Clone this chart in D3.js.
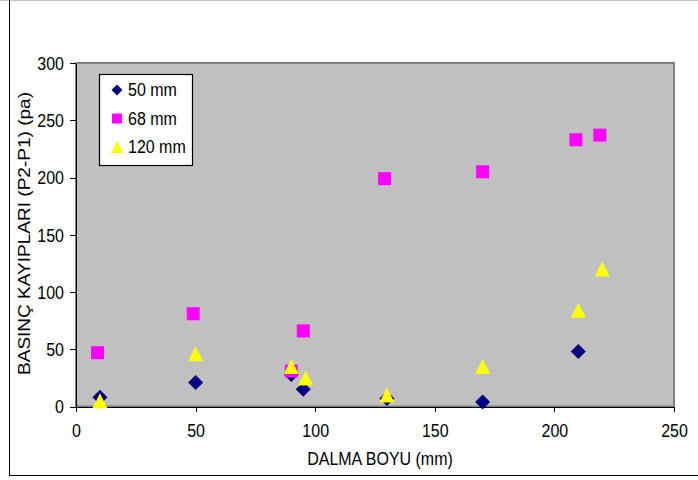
<!DOCTYPE html>
<html lang="tr">
<head>
  <meta charset="UTF-8" />
  <title>Basinç kayiplari</title>
  <style>
    body {
      margin: 0;
      background: #fff;
    }
    svg {
      display: block;
      font-family: "Liberation Sans", Arial, sans-serif;
    }
    .axis path, .axis line {
      stroke: #000;
      stroke-width: 1px;
      shape-rendering: crispEdges;
    }
    .axis text {
      font-size: 16px;
      fill: #000;
    }
  </style>
</head>
<body>
  <svg width="698" height="480"></svg>

  <script src="https://d3js.org/d3.v7.min.js"></script>
  <script>
    // values
    const xTicks = [0, 50, 100, 150, 200, 250];
    const yTicks = [0, 50, 100, 150, 200, 250, 300];

    const seriesNames = ["50 mm", "68 mm", "120 mm"];

    const x50 = [10, 50, 90, 95, 130, 170, 210];
    const y50 = [8, 21, 28, 15, 7, 4, 48];

    const x68 = [9, 49, 90, 95, 129, 170, 209, 219];
    const y68 = [47, 81, 31, 66, 199, 205, 233, 237];

    const x120 = [10, 50, 90, 96, 130, 170, 210, 220];
    const y120 = [5, 46, 35, 25, 10, 35, 84, 120];

    const stretch = 1.12; // text in the original is a bit tall

    const svg = d3.select("svg");

    // outer frame
    svg.append("line").attr("x1", 0).attr("x2", 698).attr("y1", 0.5).attr("y2", 0.5)
      .attr("stroke", "#bdbdbd");
    svg.append("line").attr("x1", 9.5).attr("x2", 9.5).attr("y1", 0).attr("y2", 476)
      .attr("stroke", "#000");
    svg.append("line").attr("x1", 9).attr("x2", 698).attr("y1", 475.5).attr("y2", 475.5)
      .attr("stroke", "#000");

    const x = d3.scaleLinear().domain([0, 250]).range([76, 674]);
    const y = d3.scaleLinear().domain([0, 300]).range([406.5, 63]);

    // plot area
    svg.append("rect")
      .attr("x", x(0)).attr("y", y(300))
      .attr("width", x(250) - x(0)).attr("height", y(0) - y(300))
      .attr("fill", "#c0c0c0")
      .attr("stroke", "#808080")
      .attr("stroke-width", 2);

    // axes
    const gx = svg.append("g")
      .attr("class", "axis")
      .attr("transform", `translate(0,${y(0)})`)
      .call(d3.axisBottom(x).tickValues(xTicks).tickSize(5).tickSizeOuter(0));
    gx.selectAll("text")
      .attr("y", 0).attr("dy", null)
      .attr("transform", `translate(0,30) scale(1,${stretch})`);

    const gy = svg.append("g")
      .attr("class", "axis")
      .attr("transform", `translate(${x(0)},0)`)
      .call(d3.axisLeft(y).tickValues(yTicks).tickSize(6).tickSizeOuter(0));
    gy.selectAll("text")
      .attr("x", -12).attr("dy", null)
      .attr("transform", `translate(0,6.4) scale(1,${stretch})`);

    // axis titles
    svg.append("text")
      .attr("transform", `translate(380,465) scale(1,${stretch})`)
      .attr("text-anchor", "middle")
      .attr("font-size", 16)
      .text("DALMA BOYU (mm)");

    svg.append("text")
      .attr("transform", "translate(30,233.5) rotate(-90)")
      .attr("text-anchor", "middle")
      .attr("font-size", 16.5)
      .attr("textLength", 283)
      .attr("lengthAdjust", "spacingAndGlyphs")
      .text("BASINÇ KAYIPLARI (P2-P1) (pa)");

    // marker shapes, size = pixel width
    const diamond = {
      draw(ctx, s) {
        const r = s / 2;
        ctx.moveTo(0, -r); ctx.lineTo(r, 0); ctx.lineTo(0, r); ctx.lineTo(-r, 0); ctx.closePath();
      }
    };
    const square = {
      draw(ctx, s) {
        const r = s / 2;
        ctx.rect(-r, -r, s, s);
      }
    };
    const triangle = {
      draw(ctx, s) {
        const r = s / 2;
        ctx.moveTo(0, -r); ctx.lineTo(r, r); ctx.lineTo(-r, r); ctx.closePath();
      }
    };

    const series = [
      { name: seriesNames[0], xs: x50, ys: y50, type: diamond, size: 15, color: "#000080" },
      { name: seriesNames[1], xs: x68, ys: y68, type: square, size: 13, color: "#ff00ff" },
      { name: seriesNames[2], xs: x120, ys: y120, type: triangle, size: 15, color: "#ffff00" }
    ];

    series.forEach(s => {
      svg.append("g")
        .selectAll("path")
        .data(s.xs.map((v, i) => [v, s.ys[i]]))
        .join("path")
        .attr("transform", d => `translate(${x(d[0])},${y(d[1])})`)
        .attr("d", d3.symbol().type(s.type).size(s.size))
        .attr("fill", s.color);
    });

    // legend
    const legend = svg.append("g");
    legend.append("rect")
      .attr("x", 99.5).attr("y", 74.5)
      .attr("width", 93).attr("height", 91)
      .attr("fill", "#fff")
      .attr("stroke", "#000")
      .attr("stroke-width", 1.2);

    const legendSizes = [11, 10, 12];
    series.forEach((s, i) => {
      const cy = 90 + i * 28.5;
      legend.append("path")
        .attr("transform", `translate(117,${cy})`)
        .attr("d", d3.symbol().type(s.type).size(legendSizes[i]))
        .attr("fill", s.color);
      legend.append("text")
        .attr("transform", `translate(128,${cy + 6.4}) scale(1,${stretch})`)
        .attr("font-size", 16)
        .text(s.name);
    });
  </script>
</body>
</html>
